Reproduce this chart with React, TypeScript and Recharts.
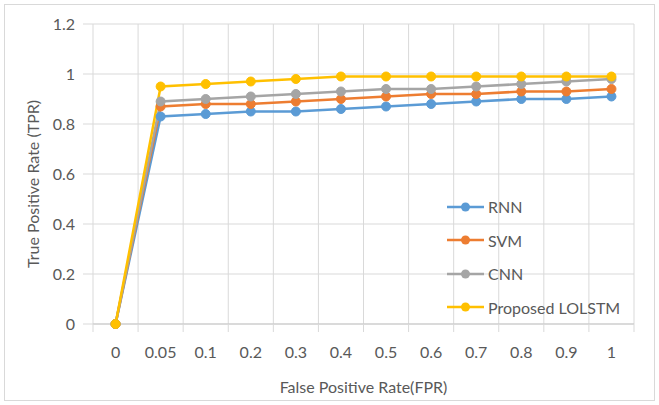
import { LineChart, Line, XAxis, YAxis, CartesianGrid, Label } from "recharts";

// ROC points per classifier, one value per FPR category
const fprLabels = ["0", "0.05", "0.1", "0.2", "0.3", "0.4", "0.5", "0.6", "0.7", "0.8", "0.9", "1"];
const rnnTpr = [0, 0.83, 0.84, 0.85, 0.85, 0.86, 0.87, 0.88, 0.89, 0.9, 0.9, 0.91];
const svmTpr = [0, 0.87, 0.88, 0.88, 0.89, 0.9, 0.91, 0.92, 0.92, 0.93, 0.93, 0.94];
const cnnTpr = [0, 0.89, 0.9, 0.91, 0.92, 0.93, 0.94, 0.94, 0.95, 0.96, 0.97, 0.98];
const lolstmTpr = [0, 0.95, 0.96, 0.97, 0.98, 0.99, 0.99, 0.99, 0.99, 0.99, 0.99, 0.99];
const yTicks = [0, 0.2, 0.4, 0.6, 0.8, 1, 1.2];

const data = fprLabels.map((fpr, i) => ({
  fpr,
  RNN: rnnTpr[i],
  SVM: svmTpr[i],
  CNN: cnnTpr[i],
  "Proposed LOLSTM": lolstmTpr[i],
}));

const series = [
  { key: "RNN", color: "#5B9BD5" },
  { key: "SVM", color: "#ED7D31" },
  { key: "CNN", color: "#A5A5A5" },
  { key: "Proposed LOLSTM", color: "#FFC000" },
];

const WIDTH = 659;
const HEIGHT = 405;
const MARGIN = { top: 24, right: 25, left: 0, bottom: 0 };
const Y_AXIS_W = 93;
const X_AXIS_H = 81;
const PLOT_W = WIDTH - MARGIN.left - MARGIN.right - Y_AXIS_W;
const BAND = PLOT_W / fprLabels.length;

const FONT = "Lato, 'Open Sans', sans-serif";
const TEXT = "#595959";
const GRID = "#d9d9d9";

// category label plus a tick mark on each band boundary (Excel style)
const FprTick = ({ x, y, payload, index }: any) => {
  const axisY = y - 8;
  const last = index === fprLabels.length - 1;
  return (
    <g>
      <line x1={x - BAND / 2} x2={x - BAND / 2} y1={axisY} y2={axisY + 8} stroke={GRID} />
      {last && <line x1={x + BAND / 2} x2={x + BAND / 2} y1={axisY} y2={axisY + 8} stroke={GRID} />}
      <text x={x} y={y + 26} textAnchor="middle" fill={TEXT} fontSize={16} fontFamily={FONT}>
        {payload.value}
      </text>
    </g>
  );
};

const YTitle = ({ viewBox }: any) => {
  const cx = viewBox.x + 32;
  const cy = viewBox.y + viewBox.height / 2 + 10;
  return (
    <text
      x={cx}
      y={cy}
      transform={`rotate(-90, ${cx}, ${cy})`}
      textAnchor="middle"
      dominantBaseline="central"
      fill={TEXT}
      fontSize={16}
      fontFamily={FONT}
    >
      True Positive Rate (TPR)
    </text>
  );
};

const XTitle = ({ viewBox }: any) => (
  <text
    x={viewBox.x + viewBox.width / 2}
    y={viewBox.y + 62}
    textAnchor="middle"
    dominantBaseline="central"
    fill={TEXT}
    fontSize={16}
    fontFamily={FONT}
  >
    False Positive Rate(FPR)
  </text>
);

// legend sits inside the plot area, lower right
const LegendBox = () => (
  <div style={{ position: "absolute", left: 447, top: 190 }}>
    {series.map((s) => (
      <div key={s.key} style={{ display: "flex", alignItems: "center", height: 33.5 }}>
        <svg width={38} height={12}>
          <line x1={0} x2={37} y1={6} y2={6} stroke={s.color} strokeWidth={2.5} />
          <circle cx={18.5} cy={6} r={4.5} fill={s.color} />
        </svg>
        <span style={{ marginLeft: 3, color: TEXT, fontSize: 16, fontFamily: FONT }}>{s.key}</span>
      </div>
    ))}
  </div>
);

export default function App() {
  return (
    <div style={{ position: "relative", width: WIDTH, height: HEIGHT, background: "#fff" }}>
      <style>{`body { margin: 0; }`}</style>
      <div
        style={{
          position: "absolute",
          left: 4,
          top: 4,
          width: 649,
          height: 395,
          border: "1px solid #d9d9d9",
        }}
      />
      <div style={{ position: "absolute", left: 0, top: 0 }}>
        <LineChart width={WIDTH} height={HEIGHT} data={data} margin={MARGIN}>
          <CartesianGrid
            stroke={GRID}
            verticalCoordinatesGenerator={({ offset }: any) =>
              Array.from({ length: fprLabels.length + 1 }, (_, i) => offset.left + (i * offset.width) / fprLabels.length)
            }
          />
          <XAxis
            dataKey="fpr"
            height={X_AXIS_H}
            padding={{ left: BAND / 2, right: BAND / 2 }}
            axisLine={{ stroke: "#c8c8c8" }}
            tickLine={false}
            tickSize={8}
            tickMargin={0}
            interval={0}
            tick={<FprTick />}
          >
            <Label content={<XTitle />} />
          </XAxis>
          <YAxis
            width={Y_AXIS_W}
            domain={[0, 1.2]}
            ticks={yTicks}
            axisLine={false}
            tickLine={{ stroke: GRID }}
            tickSize={10}
            tickMargin={8}
            tick={{ fill: TEXT, fontSize: 16, fontFamily: FONT }}
          >
            <Label content={<YTitle />} />
          </YAxis>
          {series.map((s) => (
            <Line
              key={s.key}
              dataKey={s.key}
              stroke={s.color}
              strokeWidth={2.5}
              dot={{ r: 4.5, fill: s.color, stroke: s.color, strokeWidth: 1 }}
              isAnimationActive={false}
            />
          ))}
        </LineChart>
      </div>
      <LegendBox />
    </div>
  );
}
